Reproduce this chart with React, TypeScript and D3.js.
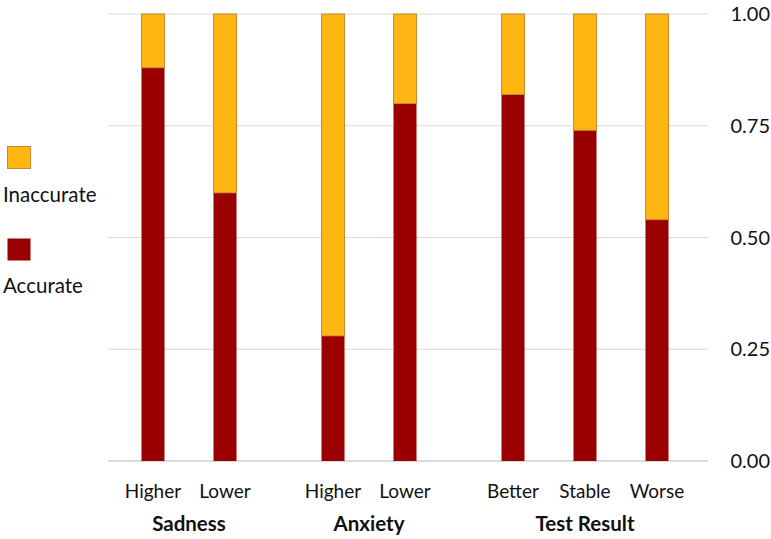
import React from "react";
import * as d3 from "d3";

const groups = ["Sadness", "Anxiety", "Test Result"];
const categories = [
  { group: "Sadness", label: "Higher" },
  { group: "Sadness", label: "Lower" },
  { group: "Anxiety", label: "Higher" },
  { group: "Anxiety", label: "Lower" },
  { group: "Test Result", label: "Better" },
  { group: "Test Result", label: "Stable" },
  { group: "Test Result", label: "Worse" },
];
const accurate = [0.88, 0.6, 0.28, 0.8, 0.82, 0.74, 0.54];
const inaccurate = accurate.map((a) => 1 - a);
const yTicks = [0, 0.25, 0.5, 0.75, 1];
const seriesNames = ["Inaccurate", "Accurate"];

const W = 771;
const H = 539;
const FONT = "Lato, 'Open Sans', sans-serif";
const ORANGE = "#FFB612";
const ORANGE_STROKE = "#C98A2E";
const RED = "#9B0000";

export default function App() {
  // slot positions: each new group adds a half-slot gap
  const slots: number[] = [];
  let s = 0;
  categories.forEach((c, i) => {
    if (i > 0) {
      s += c.group !== categories[i - 1].group ? 1.5 : 1;
    }
    slots.push(s);
  });
  const x = d3.scaleLinear().domain([0, d3.max(slots) as number]).range([153, 657]);
  const y = d3.scaleLinear().domain([0, 1]).range([461, 14]);
  const bw = 23;

  const stackData = categories.map((c, i) => ({ key: i, Accurate: accurate[i], Inaccurate: inaccurate[i] }));
  const stack = d3.stack<any>().keys(["Accurate", "Inaccurate"])(stackData);

  return (
    <svg width={W} height={H} style={{ display: "block", position: "absolute", left: 0, top: 0 }}>
      <rect width={W} height={H} fill="#fff" />
      {yTicks.map((t) => (
        <g key={t}>
          <line x1={108} x2={708} y1={y(t)} y2={y(t)} stroke={t === 0 ? "#b8b8b8" : "#d9d9d9"} strokeWidth={1} />
          <text x={770} y={y(t)} dy="0.35em" textAnchor="end" fontFamily={FONT} fontSize={20} fill="#111">
            {d3.format(".2f")(t)}
          </text>
        </g>
      ))}
      {stack.map((layer) =>
        layer.map((d, i) => (
          <rect
            key={layer.key + i}
            x={x(slots[i]) - bw / 2}
            y={y(d[1])}
            width={bw}
            height={y(d[0]) - y(d[1])}
            fill={layer.key === "Accurate" ? RED : ORANGE}
            stroke={layer.key === "Accurate" ? "none" : ORANGE_STROKE}
            strokeWidth={1}
          />
        ))
      )}
      {categories.map((c, i) => (
        <text key={"c" + i} x={x(slots[i])} y={498} textAnchor="middle" fontFamily={FONT} fontSize={19} fill="#111">
          {c.label}
        </text>
      ))}
      {groups.map((g) => {
        const idx = categories.map((c, i) => (c.group === g ? i : -1)).filter((i) => i >= 0);
        const cx = (x(slots[idx[0]]) + x(slots[idx[idx.length - 1]])) / 2;
        return (
          <text key={g} x={cx} y={531} textAnchor="middle" fontFamily={FONT} fontSize={20.5} fontWeight="bold" fill="#111">
            {g}
          </text>
        );
      })}
      {seriesNames.map((n, i) => (
        <g key={n}>
          <rect
            x={7.5}
            y={146.5 + i * 92}
            width={23}
            height={22}
            fill={n === "Accurate" ? RED : ORANGE}
            stroke={n === "Accurate" ? "none" : ORANGE_STROKE}
          />
          <text x={3} y={202 + i * 91} fontFamily={FONT} fontSize={20.5} fill="#111">
            {n}
          </text>
        </g>
      ))}
    </svg>
  );
}
